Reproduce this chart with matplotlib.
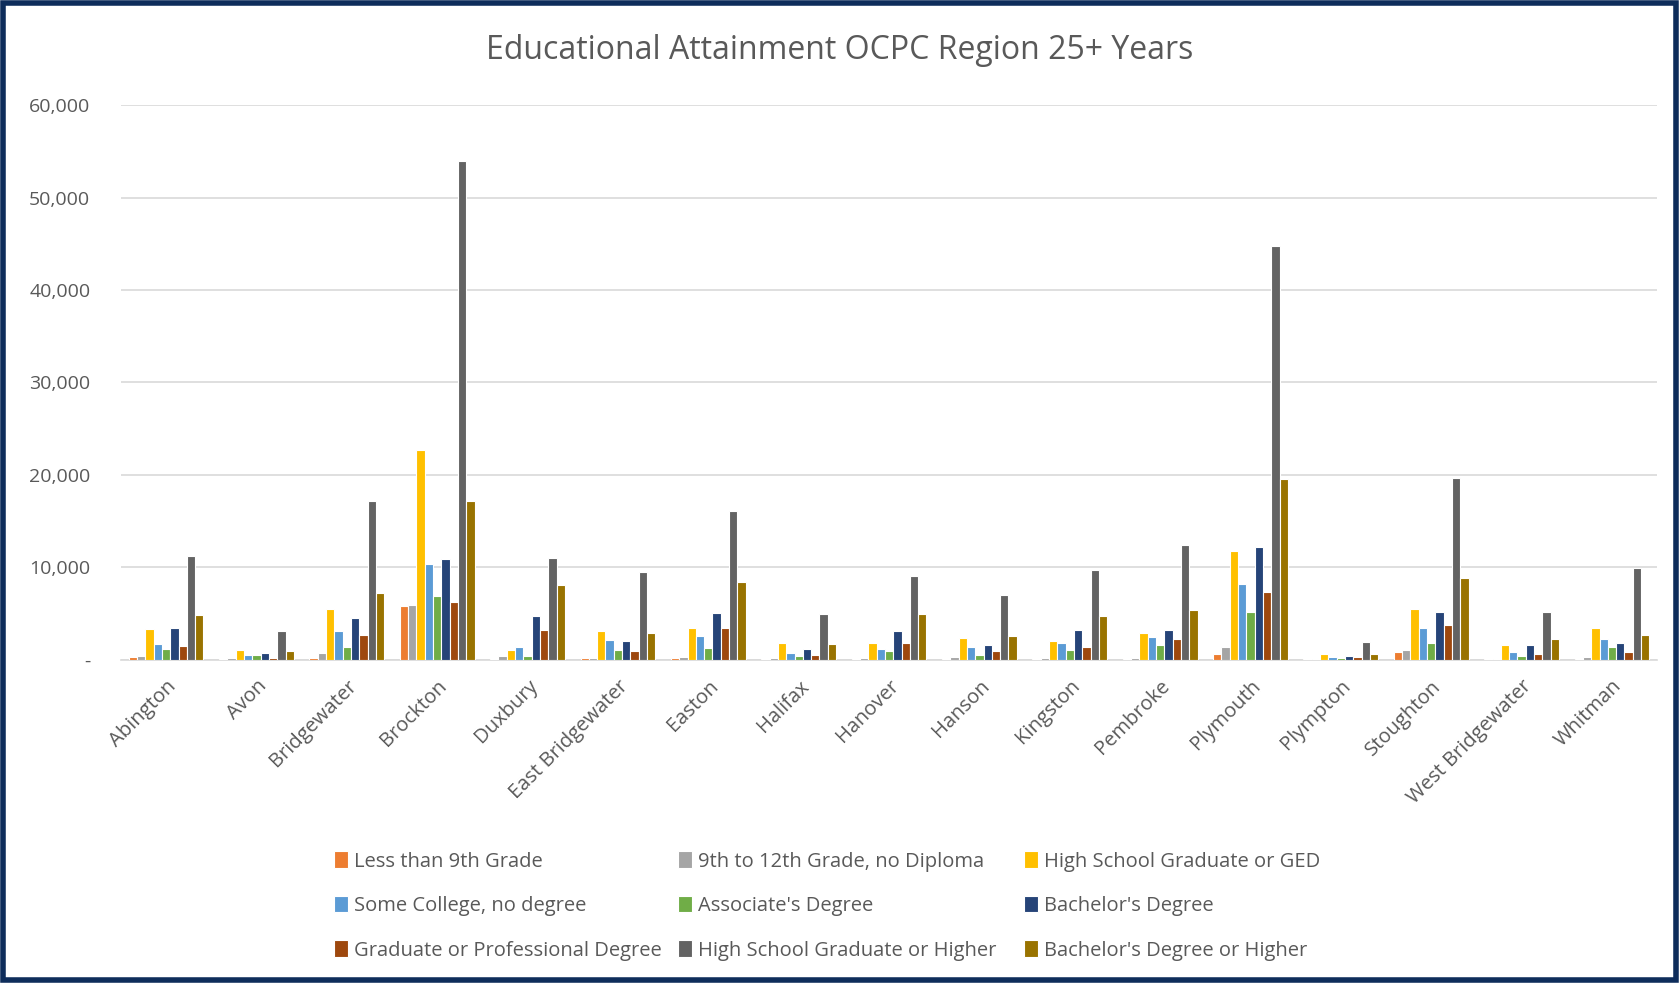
import matplotlib
matplotlib.use("Agg")
import matplotlib.pyplot as plt
from matplotlib.patches import Rectangle
from matplotlib.ticker import FuncFormatter
import numpy as np

towns = ["Abington", "Avon", "Bridgewater", "Brockton", "Duxbury", "East Bridgewater",
         "Easton", "Halifax", "Hanover", "Hanson", "Kingston", "Pembroke", "Plymouth",
         "Plympton", "Stoughton", "West Bridgewater", "Whitman"]

less_9th = [300, 30, 200, 5770, 50, 150, 150, 30, 70, 50, 40, 80, 650, 20, 870, 30, 110]
grade_9_12 = [350, 150, 730, 5920, 390, 150, 250, 150, 150, 250, 150, 190, 1410, 80, 990, 80, 270]
hs_ged = [3300, 1050, 5430, 22650, 1070, 3080, 3440, 1810, 1770, 2390, 2030, 2890, 11750, 610, 5430, 1600, 3420]
some_college = [1700, 450, 3050, 10380, 1360, 2170, 2600, 690, 1160, 1340, 1770, 2400, 8170, 300, 3420, 840, 2280]
associates = [1200, 450, 1400, 6840, 390, 1050, 1300, 360, 900, 470, 1010, 1600, 5170, 150, 1750, 380, 1370]
bachelors = [3400, 730, 4460, 10860, 4750, 1990, 5000, 1160, 3080, 1560, 3220, 3190, 12160, 380, 5130, 1560, 1790]
graduate = [1450, 200, 2700, 6260, 3250, 900, 3370, 500, 1770, 900, 1340, 2200, 7300, 230, 3690, 610, 840]
hs_or_higher = [11250, 3050, 17170, 53980, 10960, 9480, 16070, 4890, 9050, 6990, 9670, 12430, 44730, 1860, 19610, 5170, 9880]
ba_or_higher = [4850, 920, 7180, 17120, 8100, 2930, 8430, 1740, 4920, 2530, 4670, 5400, 19540, 650, 8850, 2200, 2700]

series_names = ["Less than 9th Grade", "9th to 12th Grade, no Diploma", "High School Graduate or GED",
                "Some College, no degree", "Associate's Degree", "Bachelor's Degree",
                "Graduate or Professional Degree", "High School Graduate or Higher",
                "Bachelor's Degree or Higher"]
series_values = [less_9th, grade_9_12, hs_ged, some_college, associates, bachelors,
                 graduate, hs_or_higher, ba_or_higher]
colors = ["#ED7D31", "#A5A5A5", "#FFC000", "#5B9BD5", "#70AD47", "#264478",
          "#9E480E", "#636363", "#997300"]

plt.rcParams["font.family"] = ["Open Sans", "DejaVu Sans"]
text_gray = "#595959"

fig = plt.figure(figsize=(16.79, 9.83), dpi=100)
ax = fig.add_axes([0.072, 0.329, 0.915, 0.564])

x = np.arange(len(towns))
n = len(series_values)
width = 0.092
handles = []
for i, (name, vals, c) in enumerate(zip(series_names, series_values, colors)):
    offs = (i - (n - 1) / 2) * width
    b = ax.bar(x + offs, vals, width, color=c, edgecolor="white", linewidth=0.8,
               label=name, zorder=3)
    handles.append(b)

ax.set_xlim(-0.5, len(towns) - 0.5)
ax.set_ylim(0, 60000)
ax.set_yticks(np.arange(0, 60001, 10000))
ax.yaxis.set_major_formatter(FuncFormatter(lambda v, p: "-" if v == 0 else f"{int(v):,}"))
ax.grid(axis="y", color="#d9d9d9", linewidth=1.2, zorder=0)
ax.set_axisbelow(True)
for s in ["top", "right", "left"]:
    ax.spines[s].set_visible(False)
ax.spines["bottom"].set_color("#d9d9d9")
ax.spines["bottom"].set_linewidth(1.2)
ax.tick_params(axis="y", length=0, labelsize=14, colors=text_gray, pad=22)
ax.set_xticks(x)
ax.set_xticklabels(towns, rotation=45, ha="right", rotation_mode="anchor")
ax.tick_params(axis="x", length=0, labelsize=14.5, colors=text_gray, pad=12)

fig.text(0.5, 0.949, "Educational Attainment OCPC Region 25+ Years", ha="center",
         va="center", fontsize=23, color=text_gray)

# legend: three equal-width columns filled row by row
col_x = [0.199, 0.404, 0.610]
for c in range(3):
    idx = [c, c + 3, c + 6]
    leg = fig.legend([handles[k] for k in idx], [series_names[k] for k in idx],
                     loc="upper left", bbox_to_anchor=(col_x[c], 0.134), ncol=1,
                     frameon=False, fontsize=14.5, handlelength=0.7, handleheight=0.9,
                     handletextpad=0.3, labelspacing=1.2, borderpad=0, borderaxespad=0)
    for t in leg.get_texts():
        t.set_color(text_gray)

fig.patches.append(Rectangle((0.002, 0.003), 0.996, 0.994, transform=fig.transFigure,
                             fill=False, edgecolor="#0E2D5B", linewidth=4))

fig.savefig("out.png", dpi=100)
